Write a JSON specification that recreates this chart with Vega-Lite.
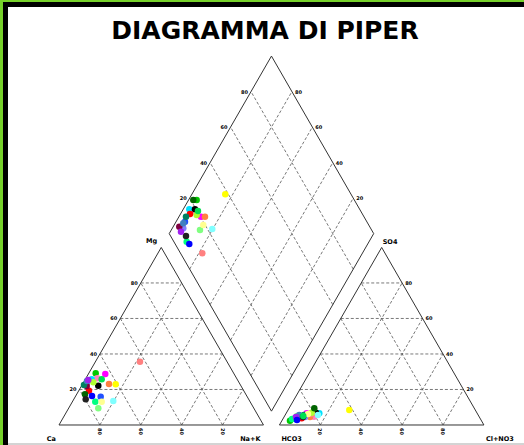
{
  "$schema": "https://vega.github.io/schema/vega-lite/v6.json",
  "width": 524,
  "height": 445,
  "padding": 0,
  "autosize": {"type": "none"},
  "background": "white",
  "config": {"view": {"stroke": null}},
  "title": {"text": "DIAGRAMMA DI PIPER", "font": "DejaVu Sans", "fontSize": 25, "fontWeight": "bold", "color": "#000000", "anchor": "middle", "baseline": "alphabetic", "offset": -66, "dx": 3},
  "datasets": {
    "borders": [
      {"side": "top", "color": "black"},
      {"side": "left", "color": "black"},
      {"side": "left", "color": "green"},
      {"side": "top", "color": "green"},
      {"side": "bottom", "color": "gray"}
    ],
    "frame": [
      {"id": "F1", "o": 0, "x": 0, "y": 0}, {"id": "F1", "o": 1, "x": 100, "y": 0}, {"id": "F1", "o": 2, "x": 50, "y": 86.6}, {"id": "F1", "o": 3, "x": 0, "y": 0},
      {"id": "F2", "o": 0, "x": 107.8, "y": 0}, {"id": "F2", "o": 1, "x": 207.8, "y": 0}, {"id": "F2", "o": 2, "x": 157.8, "y": 86.6}, {"id": "F2", "o": 3, "x": 107.8, "y": 0},
      {"id": "F3", "o": 0, "x": 103.9, "y": 6.75}, {"id": "F3", "o": 1, "x": 53.9, "y": 93.35}, {"id": "F3", "o": 2, "x": 103.9, "y": 179.95}, {"id": "F3", "o": 3, "x": 153.9, "y": 93.35}, {"id": "F3", "o": 4, "x": 103.9, "y": 6.75}
    ],
    "grid": [
      {"id": "a1", "o": 0, "x": 10, "y": 17.32}, {"id": "a1", "o": 1, "x": 90, "y": 17.32},
      {"id": "a2", "o": 0, "x": 20, "y": 34.64}, {"id": "a2", "o": 1, "x": 80, "y": 34.64},
      {"id": "a3", "o": 0, "x": 30, "y": 51.96}, {"id": "a3", "o": 1, "x": 70, "y": 51.96},
      {"id": "a4", "o": 0, "x": 40, "y": 69.28}, {"id": "a4", "o": 1, "x": 60, "y": 69.28},
      {"id": "a5", "o": 0, "x": 20, "y": 0}, {"id": "a5", "o": 1, "x": 60, "y": 69.28},
      {"id": "a6", "o": 0, "x": 40, "y": 0}, {"id": "a6", "o": 1, "x": 70, "y": 51.96},
      {"id": "a7", "o": 0, "x": 60, "y": 0}, {"id": "a7", "o": 1, "x": 80, "y": 34.64},
      {"id": "a8", "o": 0, "x": 80, "y": 0}, {"id": "a8", "o": 1, "x": 90, "y": 17.32},
      {"id": "a9", "o": 0, "x": 80, "y": 0}, {"id": "a9", "o": 1, "x": 40, "y": 69.28},
      {"id": "a10", "o": 0, "x": 60, "y": 0}, {"id": "a10", "o": 1, "x": 30, "y": 51.96},
      {"id": "a11", "o": 0, "x": 40, "y": 0}, {"id": "a11", "o": 1, "x": 20, "y": 34.64},
      {"id": "a12", "o": 0, "x": 20, "y": 0}, {"id": "a12", "o": 1, "x": 10, "y": 17.32},
      {"id": "b1", "o": 0, "x": 117.8, "y": 17.32}, {"id": "b1", "o": 1, "x": 197.8, "y": 17.32},
      {"id": "b2", "o": 0, "x": 127.8, "y": 34.64}, {"id": "b2", "o": 1, "x": 187.8, "y": 34.64},
      {"id": "b3", "o": 0, "x": 137.8, "y": 51.96}, {"id": "b3", "o": 1, "x": 177.8, "y": 51.96},
      {"id": "b4", "o": 0, "x": 147.8, "y": 69.28}, {"id": "b4", "o": 1, "x": 167.8, "y": 69.28},
      {"id": "b5", "o": 0, "x": 127.8, "y": 0}, {"id": "b5", "o": 1, "x": 167.8, "y": 69.28},
      {"id": "b6", "o": 0, "x": 147.8, "y": 0}, {"id": "b6", "o": 1, "x": 177.8, "y": 51.96},
      {"id": "b7", "o": 0, "x": 167.8, "y": 0}, {"id": "b7", "o": 1, "x": 187.8, "y": 34.64},
      {"id": "b8", "o": 0, "x": 187.8, "y": 0}, {"id": "b8", "o": 1, "x": 197.8, "y": 17.32},
      {"id": "b9", "o": 0, "x": 187.8, "y": 0}, {"id": "b9", "o": 1, "x": 147.8, "y": 69.28},
      {"id": "b10", "o": 0, "x": 167.8, "y": 0}, {"id": "b10", "o": 1, "x": 137.8, "y": 51.96},
      {"id": "b11", "o": 0, "x": 147.8, "y": 0}, {"id": "b11", "o": 1, "x": 127.8, "y": 34.64},
      {"id": "b12", "o": 0, "x": 127.8, "y": 0}, {"id": "b12", "o": 1, "x": 117.8, "y": 17.32},
      {"id": "d1", "o": 0, "x": 113.9, "y": 24.07}, {"id": "d1", "o": 1, "x": 63.9, "y": 110.67},
      {"id": "d2", "o": 0, "x": 123.9, "y": 41.39}, {"id": "d2", "o": 1, "x": 73.9, "y": 127.99},
      {"id": "d3", "o": 0, "x": 133.9, "y": 58.71}, {"id": "d3", "o": 1, "x": 83.9, "y": 145.31},
      {"id": "d4", "o": 0, "x": 143.9, "y": 76.03}, {"id": "d4", "o": 1, "x": 93.9, "y": 162.63},
      {"id": "d5", "o": 0, "x": 93.9, "y": 24.07}, {"id": "d5", "o": 1, "x": 143.9, "y": 110.67},
      {"id": "d6", "o": 0, "x": 83.9, "y": 41.39}, {"id": "d6", "o": 1, "x": 133.9, "y": 127.99},
      {"id": "d7", "o": 0, "x": 73.9, "y": 58.71}, {"id": "d7", "o": 1, "x": 123.9, "y": 145.31},
      {"id": "d8", "o": 0, "x": 63.9, "y": 76.03}, {"id": "d8", "o": 1, "x": 113.9, "y": 162.63}
    ],
    "ticks": [
      {"p": "l", "t": "20", "x": 10, "y": 17.32}, {"p": "l", "t": "40", "x": 20, "y": 34.64}, {"p": "l", "t": "60", "x": 30, "y": 51.96}, {"p": "l", "t": "80", "x": 40, "y": 69.28},
      {"p": "l", "t": "20", "x": 63.9, "y": 110.67}, {"p": "l", "t": "40", "x": 73.9, "y": 127.99}, {"p": "l", "t": "60", "x": 83.9, "y": 145.31}, {"p": "l", "t": "80", "x": 93.9, "y": 162.63},
      {"p": "r", "t": "20", "x": 143.9, "y": 110.67}, {"p": "r", "t": "40", "x": 133.9, "y": 127.99}, {"p": "r", "t": "60", "x": 123.9, "y": 145.31}, {"p": "r", "t": "80", "x": 113.9, "y": 162.63},
      {"p": "r", "t": "20", "x": 197.8, "y": 17.32}, {"p": "r", "t": "40", "x": 187.8, "y": 34.64}, {"p": "r", "t": "60", "x": 177.8, "y": 51.96}, {"p": "r", "t": "80", "x": 167.8, "y": 69.28},
      {"p": "b", "t": "80", "x": 20, "y": 0}, {"p": "b", "t": "60", "x": 40, "y": 0}, {"p": "b", "t": "40", "x": 60, "y": 0}, {"p": "b", "t": "20", "x": 80, "y": 0},
      {"p": "b", "t": "20", "x": 127.8, "y": 0}, {"p": "b", "t": "40", "x": 147.8, "y": 0}, {"p": "b", "t": "60", "x": 167.8, "y": 0}, {"p": "b", "t": "80", "x": 187.8, "y": 0}
    ],
    "names": [
      {"p": "tl", "t": "Mg", "x": 50, "y": 86.6},
      {"p": "tr", "t": "SO4", "x": 157.8, "y": 86.6},
      {"p": "bl", "t": "Ca", "x": 0, "y": 0},
      {"p": "bl", "t": "Na+K", "x": 100, "y": 0},
      {"p": "br", "t": "HCO3", "x": 107.8, "y": 0},
      {"p": "br", "t": "Cl+NO3", "x": 207.8, "y": 0}
    ],
    "samples": [
      {"s": "c1", "x": 17.95, "y": 25.22}, {"s": "c2", "x": 22.64, "y": 24.88}, {"s": "c3", "x": 18.73, "y": 22.78}, {"s": "c4", "x": 15.99, "y": 22.29},
      {"s": "c5", "x": 20.39, "y": 13.8}, {"s": "c6", "x": 19.22, "y": 19.17}, {"s": "c7", "x": 14.67, "y": 16.73}, {"s": "c8", "x": 27.73, "y": 19.85},
      {"s": "c9", "x": 24.45, "y": 20.0}, {"s": "c10", "x": 19.22, "y": 8.15}, {"s": "c11", "x": 13.55, "y": 20.49}, {"s": "c12", "x": 13.55, "y": 19.02},
      {"s": "c13", "x": 12.22, "y": 19.51}, {"s": "c14", "x": 39.61, "y": 30.88}, {"s": "c15", "x": 13.69, "y": 21.46}, {"s": "c16", "x": 17.75, "y": 11.37},
      {"s": "c17", "x": 16.77, "y": 20.83}, {"s": "c18", "x": 20.88, "y": 11.37}, {"s": "c19", "x": 26.55, "y": 11.71}, {"s": "c20", "x": 12.71, "y": 14.98},
      {"s": "c21", "x": 13.06, "y": 12.54}, {"s": "c22", "x": 14.33, "y": 21.95}, {"s": "c23", "x": 20.88, "y": 22.29}, {"s": "c24", "x": 16.14, "y": 14.15},
      {"s": "c1", "x": 67.33, "y": 109.76}, {"s": "c2", "x": 69.44, "y": 101.61}, {"s": "c3", "x": 65.04, "y": 103.9}, {"s": "c4", "x": 63.72, "y": 105.22},
      {"s": "c5", "x": 61.61, "y": 99.17}, {"s": "c6", "x": 66.5, "y": 105.22}, {"s": "c7", "x": 64.06, "y": 102.93}, {"s": "c8", "x": 81.32, "y": 112.54},
      {"s": "c9", "x": 71.39, "y": 101.61}, {"s": "c10", "x": 68.95, "y": 95.12}, {"s": "c11", "x": 60.78, "y": 95.95}, {"s": "c12", "x": 58.83, "y": 96.73},
      {"s": "c13", "x": 62.1, "y": 101.61}, {"s": "c14", "x": 70.07, "y": 83.76}, {"s": "c15", "x": 60.78, "y": 98.39}, {"s": "c16", "x": 62.44, "y": 89.41},
      {"s": "c17", "x": 67.33, "y": 102.44}, {"s": "c18", "x": 70.56, "y": 97.56}, {"s": "c19", "x": 74.96, "y": 95.61}, {"s": "c20", "x": 65.67, "y": 109.76},
      {"s": "c21", "x": 62.1, "y": 92.2}, {"s": "c22", "x": 59.66, "y": 94.29}, {"s": "c23", "x": 67.97, "y": 104.39}, {"s": "c24", "x": 63.72, "y": 88.29},
      {"s": "c1", "x": 112.96, "y": 2.1}, {"s": "c2", "x": 121.12, "y": 5.71}, {"s": "c3", "x": 124.69, "y": 4.05}, {"s": "c4", "x": 127.29, "y": 5.71},
      {"s": "c5", "x": 115.4, "y": 3.27}, {"s": "c6", "x": 125.67, "y": 6.0}, {"s": "c7", "x": 118.68, "y": 3.27}, {"s": "c8", "x": 141.96, "y": 7.32},
      {"s": "c9", "x": 122.74, "y": 3.9}, {"s": "c10", "x": 116.38, "y": 4.39}, {"s": "c11", "x": 120.29, "y": 3.9}, {"s": "c12", "x": 117.85, "y": 4.39},
      {"s": "c13", "x": 119.8, "y": 4.88}, {"s": "c14", "x": 123.72, "y": 5.37}, {"s": "c15", "x": 117.51, "y": 4.88}, {"s": "c16", "x": 113.94, "y": 2.93},
      {"s": "c17", "x": 123.57, "y": 6.0}, {"s": "c18", "x": 121.76, "y": 5.37}, {"s": "c19", "x": 126.65, "y": 4.88}, {"s": "c20", "x": 124.84, "y": 8.15},
      {"s": "c21", "x": 119.32, "y": 3.9}, {"s": "c22", "x": 115.89, "y": 3.9}, {"s": "c23", "x": 119.46, "y": 4.39}, {"s": "c24", "x": 116.38, "y": 2.44}
    ]
  },
  "layer": [
    {
      "data": {"name": "grid"},
      "mark": {"type": "line", "color": "#555555", "strokeWidth": 0.8, "strokeDash": [3, 2]},
      "encoding": {
        "x": {"field": "x", "type": "quantitative", "axis": null, "scale": {"domain": [-28.85, 227.4], "nice": false, "zero": false}},
        "y": {"field": "y", "type": "quantitative", "axis": null, "scale": {"domain": [-9.76, 207.3], "nice": false, "zero": false}},
        "detail": {"field": "id"}, "order": {"field": "o"}}
    },
    {
      "data": {"name": "frame"},
      "mark": {"type": "line", "color": "#333333", "strokeWidth": 1},
      "encoding": {
        "x": {"field": "x", "type": "quantitative", "axis": null},
        "y": {"field": "y", "type": "quantitative", "axis": null},
        "detail": {"field": "id"}, "order": {"field": "o"}}
    },
    {
      "data": {"name": "borders"},
      "transform": [{"filter": "datum.side === 'bottom'"}],
      "mark": {"type": "rule", "color": "#d4d4d4", "strokeWidth": 2},
      "encoding": {"x": {"datum": -26.16, "type": "quantitative"}, "x2": {"datum": 227.4}, "y": {"datum": -9.27, "type": "quantitative"}}
    },
    {
      "data": {"name": "ticks"},
      "transform": [{"filter": "datum.p === 'l'"}],
      "mark": {"type": "text", "font": "DejaVu Sans", "fontSize": 5, "fontWeight": "bold", "align": "right", "baseline": "middle", "dx": -3, "color": "#000000"},
      "encoding": {"x": {"field": "x", "type": "quantitative"}, "y": {"field": "y", "type": "quantitative"}, "text": {"field": "t"}}
    },
    {
      "data": {"name": "ticks"},
      "transform": [{"filter": "datum.p === 'r'"}],
      "mark": {"type": "text", "font": "DejaVu Sans", "fontSize": 5, "fontWeight": "bold", "align": "left", "baseline": "middle", "dx": 3, "color": "#000000"},
      "encoding": {"x": {"field": "x", "type": "quantitative"}, "y": {"field": "y", "type": "quantitative"}, "text": {"field": "t"}}
    },
    {
      "data": {"name": "ticks"},
      "transform": [{"filter": "datum.p === 'b'"}],
      "mark": {"type": "text", "font": "DejaVu Sans", "fontSize": 5, "fontWeight": "bold", "align": "left", "baseline": "middle", "angle": 90, "dx": 3, "color": "#000000"},
      "encoding": {"x": {"field": "x", "type": "quantitative"}, "y": {"field": "y", "type": "quantitative"}, "text": {"field": "t"}}
    },
    {
      "data": {"name": "names"},
      "transform": [{"filter": "datum.p === 'tl'"}],
      "mark": {"type": "text", "font": "DejaVu Sans", "fontSize": 6.5, "fontWeight": "bold", "align": "right", "baseline": "alphabetic", "dx": -4, "dy": -4, "color": "#000000"},
      "encoding": {"x": {"field": "x", "type": "quantitative"}, "y": {"field": "y", "type": "quantitative"}, "text": {"field": "t"}}
    },
    {
      "data": {"name": "names"},
      "transform": [{"filter": "datum.p === 'tr'"}],
      "mark": {"type": "text", "font": "DejaVu Sans", "fontSize": 6.5, "fontWeight": "bold", "align": "left", "baseline": "alphabetic", "dx": 1, "dy": -3, "color": "#000000"},
      "encoding": {"x": {"field": "x", "type": "quantitative"}, "y": {"field": "y", "type": "quantitative"}, "text": {"field": "t"}}
    },
    {
      "data": {"name": "names"},
      "transform": [{"filter": "datum.p === 'bl'"}],
      "mark": {"type": "text", "font": "DejaVu Sans", "fontSize": 6.5, "fontWeight": "bold", "align": "right", "baseline": "alphabetic", "dx": -3, "dy": 16, "color": "#000000"},
      "encoding": {"x": {"field": "x", "type": "quantitative"}, "y": {"field": "y", "type": "quantitative"}, "text": {"field": "t"}}
    },
    {
      "data": {"name": "names"},
      "transform": [{"filter": "datum.p === 'br'"}],
      "mark": {"type": "text", "font": "DejaVu Sans", "fontSize": 6.5, "fontWeight": "bold", "align": "left", "baseline": "alphabetic", "dx": 2, "dy": 16, "color": "#000000"},
      "encoding": {"x": {"field": "x", "type": "quantitative"}, "y": {"field": "y", "type": "quantitative"}, "text": {"field": "t"}}
    },
    {
      "data": {"name": "samples"},
      "mark": {"type": "point", "shape": "circle", "filled": true, "size": 42, "opacity": 1},
      "encoding": {
        "x": {"field": "x", "type": "quantitative"},
        "y": {"field": "y", "type": "quantitative"},
        "color": {"field": "s", "type": "nominal", "legend": null, "scale": {
          "domain": ["c1","c2","c3","c4","c5","c6","c7","c8","c9","c10","c11","c12","c13","c14","c15","c16","c17","c18","c19","c20","c21","c22","c23","c24"],
          "range": ["#00c800","#ff00ff","#ff80c0","#00e0ff","#2050ff","#000000","#ff0000","#ffff00","#ff8040","#80ff80","#8080ff","#800040","#008060","#ff8080","#4080c0","#00ff80","#b0ff30","#ffff90","#80ffff","#006400","#202020","#a020f0","#00e050","#0000ff"]}}
      }
    },
    {
      "data": {"name": "borders"},
      "transform": [{"filter": "datum.side === 'top' && datum.color === 'black'"}],
      "mark": {"type": "rule", "color": "#000000", "strokeWidth": 5},
      "encoding": {"x": {"datum": -28.85, "type": "quantitative"}, "x2": {"datum": 227.4}, "y": {"datum": 205.12, "type": "quantitative"}}
    },
    {
      "data": {"name": "borders"},
      "transform": [{"filter": "datum.side === 'left' && datum.color === 'black'"}],
      "mark": {"type": "rule", "color": "#000000", "strokeWidth": 5},
      "encoding": {"x": {"datum": -26.16, "type": "quantitative"}, "y": {"datum": -9.76, "type": "quantitative"}, "y2": {"datum": 207.3}}
    },
    {
      "data": {"name": "borders"},
      "transform": [{"filter": "datum.side === 'left' && datum.color === 'green'"}],
      "mark": {"type": "rule", "color": "#76d12a", "strokeWidth": 3},
      "encoding": {"x": {"datum": -28.12, "type": "quantitative"}, "y": {"datum": -9.76, "type": "quantitative"}, "y2": {"datum": 207.3}}
    },
    {
      "data": {"name": "borders"},
      "transform": [{"filter": "datum.side === 'top' && datum.color === 'green'"}],
      "mark": {"type": "rule", "color": "#76d12a", "strokeWidth": 2},
      "encoding": {"x": {"datum": -28.85, "type": "quantitative"}, "x2": {"datum": 227.4}, "y": {"datum": 206.83, "type": "quantitative"}}
    }
  ]
}
